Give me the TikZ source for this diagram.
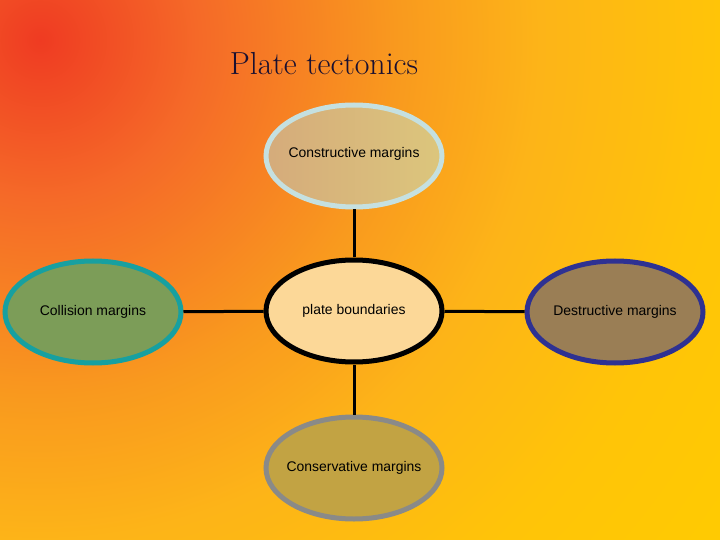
\documentclass[tikz,border=0pt]{standalone}
\usepackage{fontspec}
\setmainfont{Liberation Sans}
\newfontfamily\titlefont{Latin Modern Roman}
\usetikzlibrary{shapes.geometric}
\definecolor{bgA}{HTML}{EF3B22}
\definecolor{bgB}{HTML}{F56A28}
\definecolor{bgC}{HTML}{F99A1E}
\definecolor{bgD}{HTML}{FDB418}
\definecolor{bgE}{HTML}{FFC408}
\definecolor{bgF}{HTML}{FFCC00}
\pgfdeclareradialshading{bgshade}{\pgfpoint{0bp}{0bp}}{%
  color(0bp)=(bgA); color(4bp)=(bgB); color(9bp)=(bgC); color(12.5bp)=(bgD); color(17bp)=(bgE); color(22bp)=(bgF); color(50bp)=(bgF)}
\definecolor{topfillL}{HTML}{D5AB7B}
\definecolor{topfillR}{HTML}{DCC67C}
\definecolor{topline}{HTML}{C5E0E0}
\definecolor{midfill}{HTML}{FCD898}
\definecolor{leftfill}{HTML}{7C9D58}
\definecolor{leftline}{HTML}{17A0A0}
\definecolor{rightfill}{HTML}{9A7E55}
\definecolor{rightline}{HTML}{2E3192}
\definecolor{botfill}{HTML}{C2A343}
\definecolor{botline}{HTML}{8A8A88}
\definecolor{titlecol}{HTML}{1A1030}
\tikzset{
  blob/.style={ellipse, line width=5bp, inner sep=-30bp, minimum width=176bp, minimum height=102bp,
    font=\fontsize{14}{16}\selectfont, text=black},
  link/.style={line width=3bp, black}
}
\begin{document}
\begin{tikzpicture}[x=1bp,y=-1bp]
\useasboundingbox (0,0) rectangle (720,540);
\begin{scope}
\clip (0,0) rectangle (720,540);
\fill[bgF] (0,0) rectangle (720,540);
\shade[shading=bgshade] (40,40) circle (1000);
\end{scope}
\node[font=\titlefont\fontsize{32}{36}\selectfont, text=titlecol] (title) at (324,64) {Plate tectonics};
\node[blob, draw=topline, left color=topfillL, right color=topfillR] (top) at (354,156) {\raisebox{8bp}{Constructive margins}};
\node[blob, draw=black, fill=midfill] (mid) at (354,311) {plate boundaries};
\node[blob, draw=leftline, fill=leftfill] (left) at (93,312) {Collision margins};
\node[blob, draw=rightline, fill=rightfill] (right) at (615,312) {Destructive margins};
\node[blob, draw=botline, fill=botfill] (bot) at (354,468) {Conservative margins};
\draw[link] (top) -- (mid);
\draw[link] (left) -- (mid);
\draw[link] (mid) -- (right);
\draw[link] (mid) -- (bot);
\end{tikzpicture}
\end{document}
